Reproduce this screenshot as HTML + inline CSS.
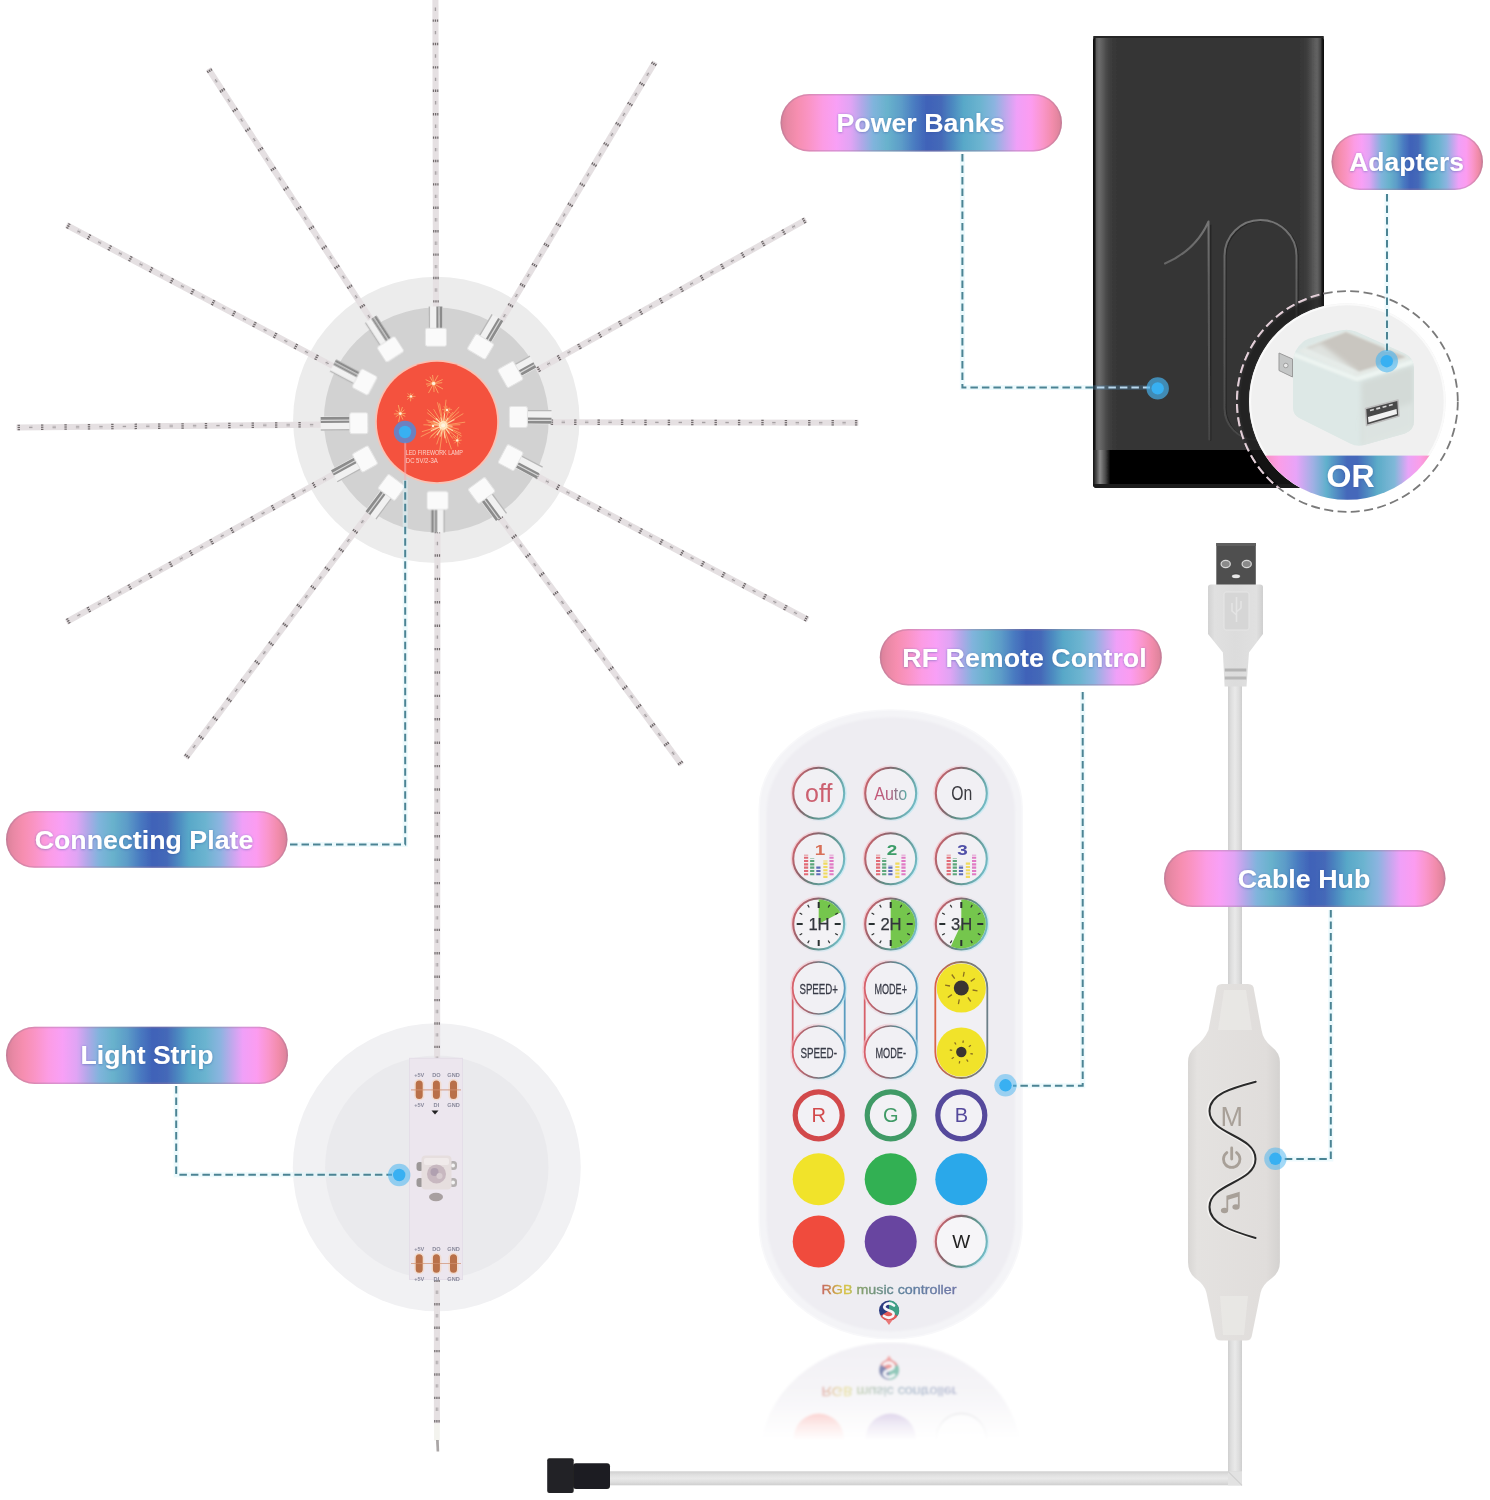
<!DOCTYPE html>
<html><head><meta charset="utf-8"><title>LED Firework Lamp Kit</title>
<style>
html,body{margin:0;padding:0;background:#fff;}
body{width:1490px;height:1500px;overflow:hidden;font-family:"Liberation Sans",sans-serif;}
svg{display:block;}
text{font-family:"Liberation Sans",sans-serif;}
</style></head><body>
<svg width="1490" height="1500" viewBox="0 0 1490 1500">
<rect width="1490" height="1500" fill="#ffffff"/>

<defs>
<linearGradient id="pill" x1="0" y1="0" x2="1" y2="0">
<stop offset="0" stop-color="#d88098"/>
<stop offset="0.025" stop-color="#e888a4"/>
<stop offset="0.06" stop-color="#f68eb0"/>
<stop offset="0.1" stop-color="#fa94c4"/>
<stop offset="0.15" stop-color="#fc9ce4"/>
<stop offset="0.2" stop-color="#f8a0f6"/>
<stop offset="0.25" stop-color="#e0a4f4"/>
<stop offset="0.29" stop-color="#b0a8e8"/>
<stop offset="0.33" stop-color="#80b4dc"/>
<stop offset="0.38" stop-color="#68b2cc"/>
<stop offset="0.43" stop-color="#5c9cc8"/>
<stop offset="0.48" stop-color="#4878c0"/>
<stop offset="0.52" stop-color="#4062b8"/>
<stop offset="0.57" stop-color="#4468b8"/>
<stop offset="0.61" stop-color="#4c88c0"/>
<stop offset="0.65" stop-color="#58a8c8"/>
<stop offset="0.71" stop-color="#6cb4d0"/>
<stop offset="0.76" stop-color="#8cb4e0"/>
<stop offset="0.8" stop-color="#c0a8ec"/>
<stop offset="0.84" stop-color="#f0a0f8"/>
<stop offset="0.89" stop-color="#fc9cf0"/>
<stop offset="0.93" stop-color="#fa96cc"/>
<stop offset="0.965" stop-color="#f28cac"/>
<stop offset="0.985" stop-color="#e486a0"/>
<stop offset="1" stop-color="#d88098"/>
</linearGradient>
<filter id="b1" x="-10%" y="-10%" width="120%" height="120%"><feGaussianBlur stdDeviation="0.6"/></filter>
<filter id="b2" x="-10%" y="-10%" width="120%" height="120%"><feGaussianBlur stdDeviation="1.2"/></filter>
<filter id="b3" x="-20%" y="-20%" width="140%" height="140%"><feGaussianBlur stdDeviation="2.5"/></filter>
<filter id="ts" x="-10%" y="-30%" width="120%" height="160%"><feDropShadow dx="0" dy="0.5" stdDeviation="1.2" flood-color="#3050a0" flood-opacity="0.55"/></filter>
</defs>

<g filter="url(#b1)">
<circle cx="436.8" cy="1167.3" r="144" fill="#f1f1f3"/>
<circle cx="436.8" cy="1167.3" r="111.7" fill="#eaeaed"/>
</g>
<circle cx="436.3" cy="419.9" r="143.2" fill="#ececec"/>
<circle cx="436.3" cy="419.9" r="112.4" fill="#d2d2d2"/>
<g filter="url(#b1)">
<line x1="436.0" y1="308.0" x2="435.4" y2="-5.0" stroke="#e5e0e2" stroke-width="6.1"/><line x1="435.4" y1="-5.0" x2="436.0" y2="308.0" stroke="#6f696b" stroke-width="5.5" stroke-dasharray="2.4 21" stroke-dashoffset="-1"/><line x1="435.4" y1="-5.0" x2="436.0" y2="308.0" stroke="#9a9496" stroke-width="3.0" stroke-dasharray="3.4 20" stroke-dashoffset="-12.5" stroke-opacity="0.85"/><line x1="434.90" y1="308.00" x2="434.30" y2="-5.00" stroke="#e5e0e2" stroke-width="0.9"/><line x1="437.10" y1="308.00" x2="436.50" y2="-5.00" stroke="#e5e0e2" stroke-width="0.9"/>
<g transform="translate(435.9,337.3) rotate(-90.1)"><rect x="8" y="-7" width="22.8" height="14" fill="#f1f1f1"/><rect x="8" y="-7.2" width="22.8" height="1.4" fill="#b8b8b8"/><rect x="8" y="0.5" width="22.8" height="6" fill="#8c8c8c"/><rect x="8" y="2.6" width="22.8" height="1.2" fill="#d8d8d8"/><rect x="-9" y="-10.5" width="18" height="21" rx="2" fill="#fafafa" stroke="#e4e4e4" stroke-width="1"/></g>
<line x1="501.0" y1="321.5" x2="655.0" y2="62.0" stroke="#e5e0e2" stroke-width="6.1"/><line x1="655.0" y1="62.0" x2="501.0" y2="321.5" stroke="#6f696b" stroke-width="5.5" stroke-dasharray="2.4 21" stroke-dashoffset="-1"/><line x1="655.0" y1="62.0" x2="501.0" y2="321.5" stroke="#9a9496" stroke-width="3.0" stroke-dasharray="3.4 20" stroke-dashoffset="-12.5" stroke-opacity="0.85"/><line x1="500.05" y1="320.94" x2="654.05" y2="61.44" stroke="#e5e0e2" stroke-width="0.9"/><line x1="501.95" y1="322.06" x2="655.95" y2="62.56" stroke="#e5e0e2" stroke-width="0.9"/>
<g transform="translate(480.6,346.6) rotate(-59.3)"><rect x="8" y="-7" width="25.5" height="14" fill="#f1f1f1"/><rect x="8" y="-7.2" width="25.5" height="1.4" fill="#b8b8b8"/><rect x="8" y="0.5" width="25.5" height="6" fill="#8c8c8c"/><rect x="8" y="2.6" width="25.5" height="1.2" fill="#d8d8d8"/><rect x="-9" y="-10.5" width="18" height="21" rx="2" fill="#fafafa" stroke="#e4e4e4" stroke-width="1"/></g>
<line x1="536.4" y1="370.5" x2="806.0" y2="219.6" stroke="#e5e0e2" stroke-width="6.1"/><line x1="806.0" y1="219.6" x2="536.4" y2="370.5" stroke="#6f696b" stroke-width="5.5" stroke-dasharray="2.4 21" stroke-dashoffset="-1"/><line x1="806.0" y1="219.6" x2="536.4" y2="370.5" stroke="#9a9496" stroke-width="3.0" stroke-dasharray="3.4 20" stroke-dashoffset="-12.5" stroke-opacity="0.85"/><line x1="535.86" y1="369.54" x2="805.46" y2="218.64" stroke="#e5e0e2" stroke-width="0.9"/><line x1="536.94" y1="371.46" x2="806.54" y2="220.56" stroke="#e5e0e2" stroke-width="0.9"/>
<g transform="translate(510.4,374.5) rotate(-29.2)"><rect x="8" y="-7" width="18.1" height="14" fill="#f1f1f1"/><rect x="8" y="-7.2" width="18.1" height="1.4" fill="#b8b8b8"/><rect x="8" y="0.5" width="18.1" height="6" fill="#8c8c8c"/><rect x="8" y="2.6" width="18.1" height="1.2" fill="#d8d8d8"/><rect x="-9" y="-10.5" width="18" height="21" rx="2" fill="#fafafa" stroke="#e4e4e4" stroke-width="1"/></g>
<line x1="550.0" y1="422.2" x2="858.3" y2="422.8" stroke="#e5e0e2" stroke-width="6.1"/><line x1="858.3" y1="422.8" x2="550.0" y2="422.2" stroke="#6f696b" stroke-width="5.5" stroke-dasharray="2.4 21" stroke-dashoffset="-1"/><line x1="858.3" y1="422.8" x2="550.0" y2="422.2" stroke="#9a9496" stroke-width="3.0" stroke-dasharray="3.4 20" stroke-dashoffset="-12.5" stroke-opacity="0.85"/><line x1="550.00" y1="421.10" x2="858.30" y2="421.70" stroke="#e5e0e2" stroke-width="0.9"/><line x1="550.00" y1="423.30" x2="858.30" y2="423.90" stroke="#e5e0e2" stroke-width="0.9"/>
<g transform="translate(518.4,417.1) rotate(0.1)"><rect x="8" y="-7" width="25.1" height="14" fill="#f1f1f1"/><rect x="8" y="-7.2" width="25.1" height="1.4" fill="#b8b8b8"/><rect x="8" y="0.5" width="25.1" height="6" fill="#8c8c8c"/><rect x="8" y="2.6" width="25.1" height="1.2" fill="#d8d8d8"/><rect x="-9" y="-10.5" width="18" height="21" rx="2" fill="#fafafa" stroke="#e4e4e4" stroke-width="1"/></g>
<line x1="536.4" y1="475.8" x2="808.0" y2="619.6" stroke="#e5e0e2" stroke-width="6.1"/><line x1="808.0" y1="619.6" x2="536.4" y2="475.8" stroke="#6f696b" stroke-width="5.5" stroke-dasharray="2.4 21" stroke-dashoffset="-1"/><line x1="808.0" y1="619.6" x2="536.4" y2="475.8" stroke="#9a9496" stroke-width="3.0" stroke-dasharray="3.4 20" stroke-dashoffset="-12.5" stroke-opacity="0.85"/><line x1="536.91" y1="474.83" x2="808.51" y2="618.63" stroke="#e5e0e2" stroke-width="0.9"/><line x1="535.89" y1="476.77" x2="807.49" y2="620.57" stroke="#e5e0e2" stroke-width="0.9"/>
<g transform="translate(510.7,457.6) rotate(27.9)"><rect x="8" y="-7" width="24.7" height="14" fill="#f1f1f1"/><rect x="8" y="-7.2" width="24.7" height="1.4" fill="#b8b8b8"/><rect x="8" y="0.5" width="24.7" height="6" fill="#8c8c8c"/><rect x="8" y="2.6" width="24.7" height="1.2" fill="#d8d8d8"/><rect x="-9" y="-10.5" width="18" height="21" rx="2" fill="#fafafa" stroke="#e4e4e4" stroke-width="1"/></g>
<line x1="499.4" y1="516.6" x2="681.6" y2="764.8" stroke="#e5e0e2" stroke-width="6.1"/><line x1="681.6" y1="764.8" x2="499.4" y2="516.6" stroke="#6f696b" stroke-width="5.5" stroke-dasharray="2.4 21" stroke-dashoffset="-1"/><line x1="681.6" y1="764.8" x2="499.4" y2="516.6" stroke="#9a9496" stroke-width="3.0" stroke-dasharray="3.4 20" stroke-dashoffset="-12.5" stroke-opacity="0.85"/><line x1="500.29" y1="515.95" x2="682.49" y2="764.15" stroke="#e5e0e2" stroke-width="0.9"/><line x1="498.51" y1="517.25" x2="680.71" y2="765.45" stroke="#e5e0e2" stroke-width="0.9"/>
<g transform="translate(481.6,490.4) rotate(53.7)"><rect x="8" y="-7" width="25.2" height="14" fill="#f1f1f1"/><rect x="8" y="-7.2" width="25.2" height="1.4" fill="#b8b8b8"/><rect x="8" y="0.5" width="25.2" height="6" fill="#8c8c8c"/><rect x="8" y="2.6" width="25.2" height="1.2" fill="#d8d8d8"/><rect x="-9" y="-10.5" width="18" height="21" rx="2" fill="#fafafa" stroke="#e4e4e4" stroke-width="1"/></g>
<line x1="437.4" y1="531.0" x2="436.9" y2="1423.5" stroke="#e5e0e2" stroke-width="6.1"/><line x1="436.9" y1="1423.5" x2="437.4" y2="531.0" stroke="#6f696b" stroke-width="5.5" stroke-dasharray="2.4 21" stroke-dashoffset="-1"/><line x1="436.9" y1="1423.5" x2="437.4" y2="531.0" stroke="#9a9496" stroke-width="3.0" stroke-dasharray="3.4 20" stroke-dashoffset="-12.5" stroke-opacity="0.85"/><line x1="438.50" y1="531.00" x2="438.00" y2="1423.50" stroke="#e5e0e2" stroke-width="0.9"/><line x1="436.30" y1="531.00" x2="435.80" y2="1423.50" stroke="#e5e0e2" stroke-width="0.9"/>
<g transform="translate(437.6,500.5) rotate(90.0)"><rect x="8" y="-7" width="24.0" height="14" fill="#f1f1f1"/><rect x="8" y="-7.2" width="24.0" height="1.4" fill="#b8b8b8"/><rect x="8" y="0.5" width="24.0" height="6" fill="#8c8c8c"/><rect x="8" y="2.6" width="24.0" height="1.2" fill="#d8d8d8"/><rect x="-9" y="-10.5" width="18" height="21" rx="2" fill="#fafafa" stroke="#e4e4e4" stroke-width="1"/></g>
<line x1="369.4" y1="512.3" x2="185.7" y2="757.9" stroke="#e5e0e2" stroke-width="6.1"/><line x1="185.7" y1="757.9" x2="369.4" y2="512.3" stroke="#6f696b" stroke-width="5.5" stroke-dasharray="2.4 21" stroke-dashoffset="-1"/><line x1="185.7" y1="757.9" x2="369.4" y2="512.3" stroke="#9a9496" stroke-width="3.0" stroke-dasharray="3.4 20" stroke-dashoffset="-12.5" stroke-opacity="0.85"/><line x1="370.28" y1="512.96" x2="186.58" y2="758.56" stroke="#e5e0e2" stroke-width="0.9"/><line x1="368.52" y1="511.64" x2="184.82" y2="757.24" stroke="#e5e0e2" stroke-width="0.9"/>
<g transform="translate(391.5,487.4) rotate(126.8)"><rect x="8" y="-7" width="26.7" height="14" fill="#f1f1f1"/><rect x="8" y="-7.2" width="26.7" height="1.4" fill="#b8b8b8"/><rect x="8" y="0.5" width="26.7" height="6" fill="#8c8c8c"/><rect x="8" y="2.6" width="26.7" height="1.2" fill="#d8d8d8"/><rect x="-9" y="-10.5" width="18" height="21" rx="2" fill="#fafafa" stroke="#e4e4e4" stroke-width="1"/></g>
<line x1="334.5" y1="473.7" x2="66.4" y2="622.0" stroke="#e5e0e2" stroke-width="6.1"/><line x1="66.4" y1="622.0" x2="334.5" y2="473.7" stroke="#6f696b" stroke-width="5.5" stroke-dasharray="2.4 21" stroke-dashoffset="-1"/><line x1="66.4" y1="622.0" x2="334.5" y2="473.7" stroke="#9a9496" stroke-width="3.0" stroke-dasharray="3.4 20" stroke-dashoffset="-12.5" stroke-opacity="0.85"/><line x1="335.03" y1="474.66" x2="66.93" y2="622.96" stroke="#e5e0e2" stroke-width="0.9"/><line x1="333.97" y1="472.74" x2="65.87" y2="621.04" stroke="#e5e0e2" stroke-width="0.9"/>
<g transform="translate(365.0,459.0) rotate(151.1)"><rect x="8" y="-7" width="27.3" height="14" fill="#f1f1f1"/><rect x="8" y="-7.2" width="27.3" height="1.4" fill="#b8b8b8"/><rect x="8" y="0.5" width="27.3" height="6" fill="#8c8c8c"/><rect x="8" y="2.6" width="27.3" height="1.2" fill="#d8d8d8"/><rect x="-9" y="-10.5" width="18" height="21" rx="2" fill="#fafafa" stroke="#e4e4e4" stroke-width="1"/></g>
<line x1="322.2" y1="424.6" x2="16.6" y2="427.5" stroke="#e5e0e2" stroke-width="6.1"/><line x1="16.6" y1="427.5" x2="322.2" y2="424.6" stroke="#6f696b" stroke-width="5.5" stroke-dasharray="2.4 21" stroke-dashoffset="-1"/><line x1="16.6" y1="427.5" x2="322.2" y2="424.6" stroke="#9a9496" stroke-width="3.0" stroke-dasharray="3.4 20" stroke-dashoffset="-12.5" stroke-opacity="0.85"/><line x1="322.21" y1="425.70" x2="16.61" y2="428.60" stroke="#e5e0e2" stroke-width="0.9"/><line x1="322.19" y1="423.50" x2="16.59" y2="426.40" stroke="#e5e0e2" stroke-width="0.9"/>
<g transform="translate(358.8,423.2) rotate(179.5)"><rect x="8" y="-7" width="30.1" height="14" fill="#f1f1f1"/><rect x="8" y="-7.2" width="30.1" height="1.4" fill="#b8b8b8"/><rect x="8" y="0.5" width="30.1" height="6" fill="#8c8c8c"/><rect x="8" y="2.6" width="30.1" height="1.2" fill="#d8d8d8"/><rect x="-9" y="-10.5" width="18" height="21" rx="2" fill="#fafafa" stroke="#e4e4e4" stroke-width="1"/></g>
<line x1="334.0" y1="366.6" x2="66.4" y2="225.0" stroke="#e5e0e2" stroke-width="6.1"/><line x1="66.4" y1="225.0" x2="334.0" y2="366.6" stroke="#6f696b" stroke-width="5.5" stroke-dasharray="2.4 21" stroke-dashoffset="-1"/><line x1="66.4" y1="225.0" x2="334.0" y2="366.6" stroke="#9a9496" stroke-width="3.0" stroke-dasharray="3.4 20" stroke-dashoffset="-12.5" stroke-opacity="0.85"/><line x1="333.49" y1="367.57" x2="65.89" y2="225.97" stroke="#e5e0e2" stroke-width="0.9"/><line x1="334.51" y1="365.63" x2="66.91" y2="224.03" stroke="#e5e0e2" stroke-width="0.9"/>
<g transform="translate(364.7,382.0) rotate(-152.1)"><rect x="8" y="-7" width="27.8" height="14" fill="#f1f1f1"/><rect x="8" y="-7.2" width="27.8" height="1.4" fill="#b8b8b8"/><rect x="8" y="0.5" width="27.8" height="6" fill="#8c8c8c"/><rect x="8" y="2.6" width="27.8" height="1.2" fill="#d8d8d8"/><rect x="-9" y="-10.5" width="18" height="21" rx="2" fill="#fafafa" stroke="#e4e4e4" stroke-width="1"/></g>
<line x1="371.6" y1="320.5" x2="208.4" y2="68.9" stroke="#e5e0e2" stroke-width="6.1"/><line x1="208.4" y1="68.9" x2="371.6" y2="320.5" stroke="#6f696b" stroke-width="5.5" stroke-dasharray="2.4 21" stroke-dashoffset="-1"/><line x1="208.4" y1="68.9" x2="371.6" y2="320.5" stroke="#9a9496" stroke-width="3.0" stroke-dasharray="3.4 20" stroke-dashoffset="-12.5" stroke-opacity="0.85"/><line x1="370.68" y1="321.10" x2="207.48" y2="69.50" stroke="#e5e0e2" stroke-width="0.9"/><line x1="372.52" y1="319.90" x2="209.32" y2="68.30" stroke="#e5e0e2" stroke-width="0.9"/>
<g transform="translate(390.5,349.3) rotate(-123.0)"><rect x="8" y="-7" width="27.9" height="14" fill="#f1f1f1"/><rect x="8" y="-7.2" width="27.9" height="1.4" fill="#b8b8b8"/><rect x="8" y="0.5" width="27.9" height="6" fill="#8c8c8c"/><rect x="8" y="2.6" width="27.9" height="1.2" fill="#d8d8d8"/><rect x="-9" y="-10.5" width="18" height="21" rx="2" fill="#fafafa" stroke="#e4e4e4" stroke-width="1"/></g>
<rect x="434" y="1423.5" width="5.8" height="17" fill="#f3f3ee"/><path d="M436 1440 L438.8 1440 L439.2 1451.5 L436.6 1451.5 Z" fill="#aaa6a6"/>
</g>
<circle cx="437" cy="422" r="62" fill="#f9c2b4"/>
<circle cx="437" cy="422" r="60.2" fill="#f4523e"/>
<g filter="url(#b1)"><g stroke="#fba765" stroke-width="0.9" stroke-opacity="0.9" stroke-linecap="round"><line x1="446.4" y1="425.3" x2="459.9" y2="424.7"/><line x1="446.3" y1="426.2" x2="458.5" y2="429.2"/><line x1="446.1" y1="426.7" x2="460.8" y2="433.4"/><line x1="446.0" y1="427.0" x2="461.4" y2="435.9"/><line x1="445.6" y1="427.6" x2="458.2" y2="438.8"/><line x1="445.1" y1="428.0" x2="452.6" y2="438.3"/><line x1="444.3" y1="428.5" x2="451.3" y2="448.9"/><line x1="443.8" y1="428.6" x2="446.6" y2="442.6"/><line x1="442.8" y1="428.6" x2="439.6" y2="451.5"/><line x1="442.1" y1="428.5" x2="436.8" y2="444.0"/><line x1="441.3" y1="428.0" x2="434.0" y2="437.8"/><line x1="440.8" y1="427.6" x2="429.8" y2="437.9"/><line x1="440.8" y1="427.5" x2="430.9" y2="436.1"/><line x1="440.3" y1="426.9" x2="421.1" y2="436.5"/><line x1="440.1" y1="426.3" x2="422.2" y2="431.6"/><line x1="440.0" y1="425.3" x2="423.8" y2="424.8"/><line x1="440.0" y1="424.7" x2="428.0" y2="422.0"/><line x1="440.1" y1="424.4" x2="426.7" y2="420.1"/><line x1="440.7" y1="423.4" x2="427.5" y2="412.9"/><line x1="440.9" y1="423.1" x2="427.8" y2="409.7"/><line x1="441.5" y1="422.6" x2="433.8" y2="409.5"/><line x1="442.4" y1="422.3" x2="437.6" y2="402.7"/><line x1="442.7" y1="422.2" x2="439.6" y2="403.9"/><line x1="443.6" y1="422.2" x2="446.0" y2="400.1"/><line x1="444.4" y1="422.4" x2="449.8" y2="408.3"/><line x1="445.1" y1="422.8" x2="452.9" y2="412.3"/><line x1="445.3" y1="423.0" x2="458.9" y2="407.2"/><line x1="445.7" y1="423.3" x2="458.9" y2="411.8"/><line x1="446.0" y1="423.8" x2="463.0" y2="413.8"/><line x1="446.4" y1="424.9" x2="464.8" y2="422.2"/></g><circle cx="443.2" cy="425.4" r="4.3" fill="#fff4e0" fill-opacity="0.95"/><g stroke="#ffe0b0" stroke-width="1.1" stroke-opacity="0.9" stroke-linecap="round"><line x1="444.8" y1="425.5" x2="452.1" y2="426.2"/><line x1="444.6" y1="426.1" x2="452.5" y2="430.5"/><line x1="444.1" y1="426.6" x2="449.2" y2="433.2"/><line x1="443.4" y1="426.9" x2="445.0" y2="437.9"/><line x1="442.9" y1="426.9" x2="440.8" y2="436.2"/><line x1="442.4" y1="426.7" x2="437.1" y2="434.9"/><line x1="441.8" y1="426.0" x2="431.3" y2="430.6"/><line x1="441.6" y1="425.3" x2="434.4" y2="424.7"/><line x1="441.8" y1="424.8" x2="433.1" y2="420.9"/><line x1="442.1" y1="424.3" x2="436.2" y2="418.5"/><line x1="442.7" y1="423.9" x2="440.9" y2="417.9"/><line x1="443.4" y1="423.9" x2="444.6" y2="413.8"/><line x1="444.1" y1="424.1" x2="447.9" y2="418.2"/><line x1="444.6" y1="424.7" x2="454.1" y2="419.8"/></g><circle cx="443.2" cy="425.4" r="2.1" fill="#fff4e0" fill-opacity="0.95"/><g stroke="#fba765" stroke-width="1.0" stroke-opacity="0.9" stroke-linecap="round"><line x1="434.9" y1="383.4" x2="441.8" y2="382.7"/><line x1="434.7" y1="384.2" x2="442.6" y2="388.8"/><line x1="434.2" y1="384.7" x2="438.1" y2="392.8"/><line x1="433.7" y1="384.8" x2="434.0" y2="391.6"/><line x1="433.0" y1="384.7" x2="428.7" y2="392.7"/><line x1="432.4" y1="384.0" x2="427.4" y2="386.2"/><line x1="432.3" y1="383.6" x2="426.4" y2="384.1"/><line x1="432.4" y1="382.9" x2="426.0" y2="379.8"/><line x1="433.0" y1="382.3" x2="430.1" y2="377.1"/><line x1="433.4" y1="382.2" x2="432.6" y2="375.4"/><line x1="434.2" y1="382.3" x2="437.8" y2="375.7"/><line x1="434.8" y1="383.0" x2="442.3" y2="379.7"/></g><circle cx="433.6" cy="383.5" r="1.8" fill="#fff4e0" fill-opacity="0.95"/><g stroke="#fba765" stroke-width="0.9" stroke-opacity="0.9" stroke-linecap="round"><line x1="411.6" y1="396.4" x2="415.1" y2="396.4"/><line x1="411.4" y1="396.8" x2="412.9" y2="398.5"/><line x1="410.9" y1="397.0" x2="410.6" y2="400.9"/><line x1="410.5" y1="396.8" x2="407.5" y2="399.3"/><line x1="410.4" y1="396.4" x2="407.4" y2="396.5"/><line x1="410.5" y1="396.0" x2="407.8" y2="393.7"/><line x1="410.9" y1="395.8" x2="410.7" y2="393.5"/><line x1="411.4" y1="395.9" x2="413.0" y2="394.0"/></g><circle cx="411" cy="396.4" r="1.2" fill="#fff4e0" fill-opacity="0.95"/><g stroke="#fba765" stroke-width="1.0" stroke-opacity="0.9" stroke-linecap="round"><line x1="401.3" y1="413.6" x2="405.2" y2="413.4"/><line x1="401.2" y1="414.1" x2="404.9" y2="416.2"/><line x1="400.7" y1="414.5" x2="402.7" y2="419.2"/><line x1="400.1" y1="414.6" x2="398.7" y2="421.5"/><line x1="399.5" y1="414.2" x2="396.0" y2="416.6"/><line x1="399.3" y1="413.7" x2="394.3" y2="414.0"/><line x1="399.5" y1="413.0" x2="396.0" y2="410.7"/><line x1="400.1" y1="412.6" x2="398.4" y2="405.4"/><line x1="400.6" y1="412.6" x2="402.3" y2="407.4"/><line x1="401.1" y1="412.9" x2="404.1" y2="410.2"/></g><circle cx="400.3" cy="413.6" r="1.4" fill="#fff4e0" fill-opacity="0.95"/><g stroke="#fba765" stroke-width="0.9" stroke-opacity="0.9" stroke-linecap="round"><line x1="457.9" y1="440.4" x2="461.2" y2="440.2"/><line x1="457.7" y1="440.9" x2="459.6" y2="443.2"/><line x1="457.3" y1="441.1" x2="457.9" y2="446.2"/><line x1="456.7" y1="440.9" x2="454.6" y2="443.0"/><line x1="456.5" y1="440.4" x2="453.8" y2="440.4"/><line x1="456.7" y1="439.9" x2="453.0" y2="436.2"/><line x1="457.3" y1="439.7" x2="457.7" y2="435.2"/><line x1="457.7" y1="439.9" x2="460.1" y2="437.2"/></g><circle cx="457.2" cy="440.4" r="1.2" fill="#fff4e0" fill-opacity="0.95"/><g stroke="#fba765" stroke-width="0.8" stroke-opacity="0.9" stroke-linecap="round"><line x1="447.6" y1="410.0" x2="451.5" y2="409.6"/><line x1="447.4" y1="410.4" x2="450.2" y2="413.2"/><line x1="447.0" y1="410.6" x2="447.1" y2="413.2"/><line x1="446.5" y1="410.4" x2="443.2" y2="413.2"/><line x1="446.4" y1="409.9" x2="442.5" y2="409.6"/><line x1="446.6" y1="409.5" x2="444.1" y2="406.6"/><line x1="447.0" y1="409.4" x2="446.7" y2="406.1"/><line x1="447.4" y1="409.6" x2="448.9" y2="407.9"/></g><circle cx="447" cy="410" r="1.2" fill="#fff4e0" fill-opacity="0.95"/><g stroke="#fba765" stroke-width="0.8" stroke-opacity="0.9" stroke-linecap="round"><line x1="433.5" y1="425.9" x2="435.7" y2="425.7"/><line x1="433.3" y1="426.4" x2="434.9" y2="428.9"/><line x1="432.7" y1="426.4" x2="431.2" y2="428.4"/><line x1="432.5" y1="425.9" x2="429.0" y2="425.6"/><line x1="432.8" y1="425.6" x2="431.8" y2="423.4"/><line x1="433.2" y1="425.6" x2="434.1" y2="423.7"/></g><circle cx="433" cy="426" r="1.2" fill="#fff4e0" fill-opacity="0.95"/></g>
<g filter="url(#b1)"><text x="405.8" y="455.3" font-size="6.3" fill="#fbd0c6" textLength="57" lengthAdjust="spacingAndGlyphs">LED FIREWORK LAMP</text><text x="405.8" y="462.8" font-size="6.3" fill="#fbd0c6" textLength="32" lengthAdjust="spacingAndGlyphs">DC 5V/2-3A</text></g>
<g filter="url(#b1)">
<rect x="409.5" y="1058.3" width="53" height="221.2" fill="#ece6ee"/>
<rect x="409.5" y="1058.3" width="53" height="221.2" fill="none" stroke="#e4dee8" stroke-width="1"/>
<rect x="414.9" y="1079.8" width="8.6" height="20" rx="4.3" fill="#b97048" stroke="#f2dcd0" stroke-width="1.6"/>
<rect x="432.09999999999997" y="1079.8" width="8.6" height="20" rx="4.3" fill="#b97048" stroke="#f2dcd0" stroke-width="1.6"/>
<rect x="449.2" y="1079.8" width="8.6" height="20" rx="4.3" fill="#b97048" stroke="#f2dcd0" stroke-width="1.6"/>
<line x1="411" y1="1089.8" x2="461" y2="1089.8" stroke="#d09070" stroke-width="1.2" stroke-opacity="0.7"/>
<text x="419.2" y="1076.8" font-size="5.6" font-weight="bold" text-anchor="middle" fill="#8a8a9c">+5V</text>
<text x="419.2" y="1107.3" font-size="5.6" font-weight="bold" text-anchor="middle" fill="#8a8a9c">+5V</text>
<text x="436.4" y="1076.8" font-size="5.6" font-weight="bold" text-anchor="middle" fill="#8a8a9c">DO</text>
<text x="436.4" y="1107.3" font-size="5.6" font-weight="bold" text-anchor="middle" fill="#8a8a9c">DI</text>
<text x="453.5" y="1076.8" font-size="5.6" font-weight="bold" text-anchor="middle" fill="#8a8a9c">GND</text>
<text x="453.5" y="1107.3" font-size="5.6" font-weight="bold" text-anchor="middle" fill="#8a8a9c">GND</text>
<rect x="414.9" y="1253.5" width="8.6" height="20" rx="4.3" fill="#b97048" stroke="#f2dcd0" stroke-width="1.6"/>
<rect x="432.09999999999997" y="1253.5" width="8.6" height="20" rx="4.3" fill="#b97048" stroke="#f2dcd0" stroke-width="1.6"/>
<rect x="449.2" y="1253.5" width="8.6" height="20" rx="4.3" fill="#b97048" stroke="#f2dcd0" stroke-width="1.6"/>
<line x1="411" y1="1263.5" x2="461" y2="1263.5" stroke="#d09070" stroke-width="1.2" stroke-opacity="0.7"/>
<text x="419.2" y="1250.5" font-size="5.6" font-weight="bold" text-anchor="middle" fill="#8a8a9c">+5V</text>
<text x="419.2" y="1281.0" font-size="5.6" font-weight="bold" text-anchor="middle" fill="#8a8a9c">+5V</text>
<text x="436.4" y="1250.5" font-size="5.6" font-weight="bold" text-anchor="middle" fill="#8a8a9c">DO</text>
<text x="436.4" y="1281.0" font-size="5.6" font-weight="bold" text-anchor="middle" fill="#8a8a9c">DI</text>
<text x="453.5" y="1250.5" font-size="5.6" font-weight="bold" text-anchor="middle" fill="#8a8a9c">GND</text>
<text x="453.5" y="1281.0" font-size="5.6" font-weight="bold" text-anchor="middle" fill="#8a8a9c">GND</text>
<path d="M431.5 1110.5 L438.5 1110.5 L435 1114.5 Z" fill="#222"/>
<rect x="416.5" y="1162" width="7" height="9" rx="3" fill="#9c9898"/><rect x="416.5" y="1178" width="7" height="9" rx="3" fill="#9c9898"/>
<rect x="449" y="1161" width="8" height="9" rx="3.5" fill="#b4b0b0"/><rect x="449" y="1178" width="8" height="9" rx="3.5" fill="#b4b0b0"/>
<circle cx="453" cy="1165.5" r="2" fill="#f4f4f4"/><circle cx="453" cy="1182.5" r="2" fill="#f4f4f4"/>
<rect x="421.5" y="1155.5" width="30" height="34" rx="4" fill="#e6dede"/>
<rect x="424" y="1158" width="25" height="7" rx="2" fill="#f0eaea"/>
<circle cx="436.5" cy="1174" r="9.5" fill="#c8b8c0"/>
<circle cx="434.5" cy="1172" r="4" fill="#b0a0b0"/><circle cx="439.5" cy="1176" r="3" fill="#d8ccd0"/>
<ellipse cx="436" cy="1197" rx="7" ry="4.2" fill="#a8a0a0"/>
</g>
<defs>
<linearGradient id="pbL" x1="0" x2="1" y1="0" y2="0">
<stop offset="0" stop-color="#0c0c0c"/><stop offset="0.008" stop-color="#141414"/><stop offset="0.014" stop-color="#5a5a5a"/><stop offset="0.026" stop-color="#6c6c6c"/><stop offset="0.04" stop-color="#5e5e5e"/><stop offset="0.06" stop-color="#474747"/><stop offset="0.085" stop-color="#393939"/><stop offset="0.11" stop-color="#353535"/>
<stop offset="0.89" stop-color="#353535"/><stop offset="0.925" stop-color="#3c3c3c"/><stop offset="0.95" stop-color="#545454"/><stop offset="0.97" stop-color="#636363"/><stop offset="0.984" stop-color="#4a4a4a"/><stop offset="0.992" stop-color="#181818"/><stop offset="1" stop-color="#0c0c0c"/>
</linearGradient>
<linearGradient id="pbB" x1="0" x2="1" y1="0" y2="0">
<stop offset="0" stop-color="#111"/><stop offset="0.03" stop-color="#8a8a8a"/><stop offset="0.05" stop-color="#555"/><stop offset="0.075" stop-color="#050505"/><stop offset="1" stop-color="#000"/>
</linearGradient>
<clipPath id="pbclip"><rect x="1093" y="36" width="231" height="452" rx="4"/></clipPath>
<clipPath id="cubeclip"><path d="M1293 362 Q1293 350 1304 341 Q1310 337 1340 330.5 Q1348 328.5 1356 331.5 L1405 353.5 Q1414 358 1414 368 L1414 421 Q1414 430 1405 433.5 L1364 445 Q1357 447 1350 443.5 L1299 418 Q1293 414.5 1293 408 Z"/></clipPath><clipPath id="adclip"><circle cx="1347.4" cy="401.5" r="98.3"/></clipPath>
<linearGradient id="adTop" x1="0" x2="1" y1="0.6" y2="0.2"><stop offset="0" stop-color="#e6e8e4"/><stop offset="0.35" stop-color="#d8d5cf"/><stop offset="0.7" stop-color="#cfcbc4"/><stop offset="1" stop-color="#d8d4ce"/></linearGradient>
<linearGradient id="adL" x1="0" x2="1" y1="0" y2="0"><stop offset="0" stop-color="#dfe6e6"/><stop offset="1" stop-color="#d8e6e6"/></linearGradient>
<linearGradient id="adR" x1="0" x2="0" y1="0" y2="1"><stop offset="0" stop-color="#dde2de"/><stop offset="1" stop-color="#e6eae8"/></linearGradient>
</defs>
<g filter="url(#b1)">
<rect x="1093" y="36" width="231" height="452" rx="4" fill="url(#pbL)"/>
<rect x="1093" y="36" width="231" height="2" rx="1" fill="#262626"/>
<g clip-path="url(#pbclip)"><rect x="1093" y="450" width="231" height="40" fill="url(#pbB)"/><rect x="1093" y="484" width="231" height="5" fill="#1a1a1a"/></g>
<defs><linearGradient id="g10" gradientUnits="userSpaceOnUse" x1="0" x2="0" y1="218" y2="442"><stop offset="0" stop-color="#767676"/><stop offset="0.3" stop-color="#5e5e5e"/><stop offset="1" stop-color="#464646"/></linearGradient></defs>
<g fill="none" stroke="#262626" stroke-width="1.6" stroke-linecap="round" stroke-linejoin="round" transform="translate(1.4,0.6)"><path d="M1209.3 225 L1209.3 439.5"/><path d="M1224.5 408 L1224.5 256 A36 36 0 0 1 1296.5 256 L1296.5 408 A32 32 0 0 1 1264.5 440 L1256.5 440 A32 32 0 0 1 1224.5 408 Z"/></g>
<g fill="none" stroke="url(#g10)" stroke-width="2" stroke-linecap="round" stroke-linejoin="round">
<path d="M1165 263.5 Q1196 250 1208.5 221.5 L1209.3 439.5"/>
<path d="M1224.5 408 L1224.5 256 A36 36 0 0 1 1296.5 256 L1296.5 408 A32 32 0 0 1 1264.5 440 L1256.5 440 A32 32 0 0 1 1224.5 408 Z"/>
</g>
</g>
<circle cx="1347.4" cy="401.5" r="104" fill="#ffffff" fill-opacity="0.0"/>
<g filter="url(#b1)">
<circle cx="1347.4" cy="401.5" r="110.4" fill="none" stroke="#7a7a7a" stroke-width="1.8" stroke-dasharray="9 4.4"/>
<g clip-path="url(#pbclip)"><circle cx="1347.4" cy="401.5" r="110.4" fill="none" stroke="#f2dce6" stroke-width="2.1" stroke-dasharray="9 4.4"/></g>
<g clip-path="url(#pbclip)"><circle cx="1347.4" cy="401.5" r="103.5" fill="none" stroke="#1c1c20" stroke-width="11" stroke-opacity="0.7" filter="url(#b2)"/></g>
<circle cx="1347.4" cy="401.5" r="98.3" fill="#f0f0f0"/>
<circle cx="1347.4" cy="401.5" r="97.3" fill="none" stroke="#fafafa" stroke-width="2"/>
<g clip-path="url(#adclip)">
<rect x="1240" y="455.6" width="215" height="50" fill="url(#pill2)"/>
</g>
</g>
<defs><linearGradient id="pill2" gradientUnits="userSpaceOnUse" x1="1262" x2="1432" y1="0" y2="0"><stop offset="0" stop-color="#f890b8"/><stop offset="0.10" stop-color="#fb9ee8"/><stop offset="0.2" stop-color="#e8a4f8"/><stop offset="0.3" stop-color="#a0b0e4"/><stop offset="0.38" stop-color="#60b0cc"/><stop offset="0.5" stop-color="#4468ba"/><stop offset="0.56" stop-color="#4468ba"/><stop offset="0.68" stop-color="#5cacc8"/><stop offset="0.78" stop-color="#80b8d8"/><stop offset="0.86" stop-color="#e8a4f8"/><stop offset="0.93" stop-color="#fb9ee8"/><stop offset="1" stop-color="#f890b8"/></linearGradient></defs>
<text x="1350.5" y="487" font-size="32" font-weight="bold" fill="#ffffff" text-anchor="middle" filter="url(#ts)">OR</text>
<g filter="url(#b1)" stroke-linejoin="round">
<path d="M1279 353 L1292.5 359 L1292.5 377 L1279 370.5 Z" fill="#c4c6c6" stroke="#9a9a9a" stroke-width="1"/>
<circle cx="1285.8" cy="365.5" r="2.3" fill="#e8e8e8" stroke="#909090" stroke-width="0.8"/>
<path d="M1293 362 Q1293 350 1304 341 Q1310 337 1340 330.5 Q1348 328.5 1356 331.5 L1405 353.5 Q1414 358 1414 368 L1414 421 Q1414 430 1405 433.5 L1364 445 Q1357 447 1350 443.5 L1299 418 Q1293 414.5 1293 408 Z" fill="#dde8e6"/>
<g clip-path="url(#cubeclip)">
<path d="M1298 351 L1346 331 L1412 359 L1357 377 Z" fill="#e4e9e5" filter="url(#b2)"/>
<path d="M1306 348 L1346 332 L1406 357 L1359 371.5 Z" fill="#c9c6c0" filter="url(#b2)"/><path d="M1298 352 L1320 343 L1358 372 L1352 376 Z" fill="#e6ece9" fill-opacity="0.75" filter="url(#b3)"/>
<path d="M1361 382 L1414 365 L1414 428 L1362 445 Z" fill="#d3dad7" filter="url(#b3)"/>
<path d="M1362 420 L1414 402 L1414 436 L1362 448 Z" fill="#dfe6e3" filter="url(#b3)" fill-opacity="0.8"/>
<path d="M1295 355 L1356.5 379 L1412 362" fill="none" stroke="#edf4f1" stroke-width="4.5" stroke-linecap="round" stroke-linejoin="round" filter="url(#b2)"/>
<path d="M1356.5 381 L1356.5 444" fill="none" stroke="#e9f0ee" stroke-width="5" stroke-linecap="round" filter="url(#b2)"/>
</g>
<path d="M1365.5 408.5 L1398 400 L1399 416 L1366.5 425.5 Z" fill="#4a4a4a" stroke="#bdbdbd" stroke-width="1.5"/>
<path d="M1368 417 L1396.5 409 L1397 414 L1368.5 422.5 Z" fill="#f2f2f2"/>
<path d="M1370 410.5 L1395 404" fill="none" stroke="#d8d8d8" stroke-width="1.6" stroke-dasharray="4 2.5"/>
</g>
<defs>
<linearGradient id="rmBody" x1="0" x2="1" y1="0" y2="0"><stop offset="0" stop-color="#f6f5f8"/><stop offset="0.06" stop-color="#eeedf1"/><stop offset="0.5" stop-color="#f0eff3"/><stop offset="0.94" stop-color="#eeedf1"/><stop offset="1" stop-color="#f8f7fa"/></linearGradient>
<linearGradient id="ring" x1="0" x2="1" y1="0.3" y2="0.7"><stop offset="0" stop-color="#c8656e"/><stop offset="0.3" stop-color="#8a646c"/><stop offset="0.55" stop-color="#5e8c84"/><stop offset="1" stop-color="#74bcc6"/></linearGradient><linearGradient id="ringGlow" x1="0" x2="1" y1="0.3" y2="0.7"><stop offset="0" stop-color="#f8b8c0"/><stop offset="0.5" stop-color="#e8e0e8"/><stop offset="1" stop-color="#b0e8f4"/></linearGradient>
<linearGradient id="ringC" x1="0" x2="1" y1="0" y2="0"><stop offset="0" stop-color="#d8606a"/><stop offset="0.4" stop-color="#8c6c74"/><stop offset="0.6" stop-color="#5e8890"/><stop offset="1" stop-color="#5a9cc0"/></linearGradient>
<linearGradient id="ringY" x1="0" x2="1" y1="0" y2="0"><stop offset="0" stop-color="#dc6448"/><stop offset="0.5" stop-color="#8a7868"/><stop offset="1" stop-color="#6c8088"/></linearGradient>
<linearGradient id="autoT" x1="0" x2="1" y1="0" y2="0"><stop offset="0" stop-color="#c85878"/><stop offset="0.5" stop-color="#b06080"/><stop offset="1" stop-color="#58b0a8"/></linearGradient>
<linearGradient id="rgbT" gradientUnits="userSpaceOnUse" x1="821" x2="957" y1="0" y2="0"><stop offset="0" stop-color="#c86a6a"/><stop offset="0.07" stop-color="#c8844c"/><stop offset="0.12" stop-color="#cdb04a"/><stop offset="0.2" stop-color="#d8c848"/><stop offset="0.26" stop-color="#8ca468"/><stop offset="0.45" stop-color="#6c9088"/><stop offset="0.62" stop-color="#6080a0"/><stop offset="1" stop-color="#7078a8"/></linearGradient>
<linearGradient id="fadeR" x1="0" x2="0" y1="0" y2="1"><stop offset="0" stop-color="#fff" stop-opacity="0.3"/><stop offset="0.42" stop-color="#fff" stop-opacity="0.5"/><stop offset="0.6" stop-color="#fff" stop-opacity="0.7"/><stop offset="0.74" stop-color="#fff" stop-opacity="0.88"/><stop offset="0.87" stop-color="#fff" stop-opacity="1"/><stop offset="1" stop-color="#fff" stop-opacity="1"/></linearGradient>
<clipPath id="reflClip"><rect x="740" y="1342" width="310" height="113"/></clipPath>
</defs>
<g clip-path="url(#reflClip)" filter="url(#b2)">
<g transform="translate(0,2680.5) scale(1,-1)">
<path d="M760 1100 L760 1223 A130.75 115 0 0 0 890.75 1338 A130.75 115 0 0 0 1021.5 1223 L1021.5 1100 Z" fill="#eceaf0"/>
<text x="889" y="1294" font-size="12.5" text-anchor="middle" fill="url(#rgbT)" stroke="url(#rgbT)" stroke-width="0.35" textLength="135" lengthAdjust="spacingAndGlyphs">RGB music controller</text>
<g><circle cx="889" cy="1310.5" r="10" fill="#2c3c80"/><path d="M889 1300.5 A10 10 0 0 1 897.5 1316 L889 1310.5 Z" fill="#3fa086"/><path d="M897.5 1316 A10 10 0 0 1 880.5 1316 L889 1310.5 Z" fill="#e25a58"/><path d="M885.5 1320 L889 1325 L892.5 1320 Z" fill="#e87878"/><path d="M894 1305.5 Q889 1301.5 885 1305 Q882.5 1308.5 889 1310.5 Q895.5 1312.5 893 1316 Q889 1319.5 884 1316" fill="none" stroke="#f6f6fa" stroke-width="2.7" stroke-linecap="round"/></g>
<circle cx="818.7" cy="1242" r="25" fill="#f0605a"/><circle cx="890.7" cy="1242" r="25" fill="#8a68b8"/><circle cx="961.3" cy="1242" r="25" fill="#f6f5f8" stroke="#b0b0b8" stroke-width="1.5"/>
</g>
<rect x="720" y="1342" width="350" height="113" fill="url(#fadeR)"/><rect x="720" y="1440" width="350" height="40" fill="#fff"/>
</g>
<g filter="url(#b1)">
<path d="M758.5 808.1 A132.25 98.9 0 0 1 890.75 709.2 A132.25 98.9 0 0 1 1023.0 808.1 L1023.0 1223.6 A132.25 115.9 0 0 1 890.75 1339.5 A132.25 115.9 0 0 1 758.5 1223.6 Z" fill="#f8f8fa" />
<path d="M760 808.7 A130.75 98.0 0 0 1 890.75 710.7 A130.75 98.0 0 0 1 1021.5 808.7 L1021.5 1223.0 A130.75 115.0 0 0 1 890.75 1338 A130.75 115.0 0 0 1 760 1223.0 Z" fill="#f4f4f7" />
<path d="M766.5 811.3000000000001 A124.25 94.1 0 0 1 890.75 717.2 A124.25 94.1 0 0 1 1015.0 811.3000000000001 L1015.0 1220.4 A124.25 111.1 0 0 1 890.75 1331.5 A124.25 111.1 0 0 1 766.5 1220.4 Z" fill="#eeedf2" filter="url(#b2)"/>
<circle cx="818.7" cy="793.3" r="26.7" fill="none" stroke="url(#ringGlow)" stroke-width="2.6" stroke-opacity="0.6"/><circle cx="818.7" cy="793.3" r="25.5" fill="#f1f0f4" stroke="url(#ring)" stroke-width="2.1"/>
<circle cx="890.7" cy="793.3" r="26.7" fill="none" stroke="url(#ringGlow)" stroke-width="2.6" stroke-opacity="0.6"/><circle cx="890.7" cy="793.3" r="25.5" fill="#f1f0f4" stroke="url(#ring)" stroke-width="2.1"/>
<circle cx="961.3" cy="793.3" r="26.7" fill="none" stroke="url(#ringGlow)" stroke-width="2.6" stroke-opacity="0.6"/><circle cx="961.3" cy="793.3" r="25.5" fill="#f1f0f4" stroke="url(#ring)" stroke-width="2.1"/>
<text x="818.7" y="802.0999999999999" font-size="25" text-anchor="middle" fill="#cc6070">off</text>
<text x="890.7" y="799.8" font-size="18.5" text-anchor="middle" fill="url(#autoT)" textLength="33" lengthAdjust="spacingAndGlyphs">Auto</text>
<text x="961.8" y="800.3" font-size="19.5" text-anchor="middle" fill="#3a3a40" textLength="21" lengthAdjust="spacingAndGlyphs">On</text>
<circle cx="818.7" cy="858.7" r="26.7" fill="none" stroke="url(#ringGlow)" stroke-width="2.6" stroke-opacity="0.6"/><circle cx="818.7" cy="858.7" r="25.5" fill="#f1f0f4" stroke="url(#ring)" stroke-width="2.1"/>
<line x1="806.1" y1="875.3000000000001" x2="806.1" y2="854.8000000000001" stroke="#e0606a" stroke-width="4.2" stroke-dasharray="2.1 1.2" stroke-opacity="0.92"/>
<line x1="812.2" y1="875.3000000000001" x2="812.2" y2="858.3000000000001" stroke="#4fa070" stroke-width="4.2" stroke-dasharray="2.1 1.2" stroke-opacity="0.92"/>
<line x1="818.4" y1="875.3000000000001" x2="818.4" y2="865.8000000000001" stroke="#5060b0" stroke-width="4.2" stroke-dasharray="2.1 1.2" stroke-opacity="0.92"/>
<line x1="825.4" y1="877.9000000000001" x2="825.4" y2="860.4000000000001" stroke="#f0d850" stroke-width="4.2" stroke-dasharray="2.1 1.2" stroke-opacity="0.92"/>
<line x1="831.5" y1="875.3000000000001" x2="831.5" y2="854.8000000000001" stroke="#e070c0" stroke-width="4.2" stroke-dasharray="2.1 1.2" stroke-opacity="0.92"/>
<text x="819.9000000000001" y="854.5" font-size="15.5" font-weight="bold" text-anchor="middle" fill="#d87058" stroke="#f1f0f4" stroke-width="2" paint-order="stroke" textLength="10.5" lengthAdjust="spacingAndGlyphs">1</text>
<circle cx="890.7" cy="858.7" r="26.7" fill="none" stroke="url(#ringGlow)" stroke-width="2.6" stroke-opacity="0.6"/><circle cx="890.7" cy="858.7" r="25.5" fill="#f1f0f4" stroke="url(#ring)" stroke-width="2.1"/>
<line x1="878.1" y1="875.3000000000001" x2="878.1" y2="854.8000000000001" stroke="#e0606a" stroke-width="4.2" stroke-dasharray="2.1 1.2" stroke-opacity="0.92"/>
<line x1="884.2" y1="875.3000000000001" x2="884.2" y2="858.3000000000001" stroke="#4fa070" stroke-width="4.2" stroke-dasharray="2.1 1.2" stroke-opacity="0.92"/>
<line x1="890.4" y1="875.3000000000001" x2="890.4" y2="865.3000000000001" stroke="#5060b0" stroke-width="4.2" stroke-dasharray="2.1 1.2" stroke-opacity="0.92"/>
<line x1="897.4" y1="877.9000000000001" x2="897.4" y2="861.9000000000001" stroke="#f0d850" stroke-width="4.2" stroke-dasharray="2.1 1.2" stroke-opacity="0.92"/>
<line x1="903.5" y1="875.3000000000001" x2="903.5" y2="854.8000000000001" stroke="#e070c0" stroke-width="4.2" stroke-dasharray="2.1 1.2" stroke-opacity="0.92"/>
<text x="891.9000000000001" y="854.5" font-size="15.5" font-weight="bold" text-anchor="middle" fill="#3c9c68" stroke="#f1f0f4" stroke-width="2" paint-order="stroke" textLength="10.5" lengthAdjust="spacingAndGlyphs">2</text>
<circle cx="961.3" cy="858.7" r="26.7" fill="none" stroke="url(#ringGlow)" stroke-width="2.6" stroke-opacity="0.6"/><circle cx="961.3" cy="858.7" r="25.5" fill="#f1f0f4" stroke="url(#ring)" stroke-width="2.1"/>
<line x1="948.7" y1="875.3000000000001" x2="948.7" y2="854.8000000000001" stroke="#e0606a" stroke-width="4.2" stroke-dasharray="2.1 1.2" stroke-opacity="0.92"/>
<line x1="954.8" y1="875.3000000000001" x2="954.8" y2="858.3000000000001" stroke="#4fa070" stroke-width="4.2" stroke-dasharray="2.1 1.2" stroke-opacity="0.92"/>
<line x1="961.0" y1="875.3000000000001" x2="961.0" y2="865.3000000000001" stroke="#5060b0" stroke-width="4.2" stroke-dasharray="2.1 1.2" stroke-opacity="0.92"/>
<line x1="967.9" y1="877.9000000000001" x2="967.9" y2="861.9000000000001" stroke="#f0d850" stroke-width="4.2" stroke-dasharray="2.1 1.2" stroke-opacity="0.92"/>
<line x1="974.1" y1="875.3000000000001" x2="974.1" y2="854.8000000000001" stroke="#e070c0" stroke-width="4.2" stroke-dasharray="2.1 1.2" stroke-opacity="0.92"/>
<text x="962.5" y="854.5" font-size="15.5" font-weight="bold" text-anchor="middle" fill="#5050a8" stroke="#f1f0f4" stroke-width="2" paint-order="stroke" textLength="10.5" lengthAdjust="spacingAndGlyphs">3</text>
<circle cx="818.7" cy="924" r="26.7" fill="none" stroke="url(#ringGlow)" stroke-width="2.6" stroke-opacity="0.6"/><circle cx="818.7" cy="924" r="25.5" fill="#f3f2f5" stroke="url(#ring)" stroke-width="2.1"/>
<path d="M818.7 924 L818.7 899.5 A24.5 24.5 0 0 1 840.3 912.5 Z" fill="#74c64e"/>
<line x1="818.7" y1="902.0" x2="818.7" y2="908.0" stroke="#2c3030" stroke-width="2.0"/>
<line x1="829.7" y1="904.9" x2="828.2" y2="907.5" stroke="#2c3030" stroke-width="1.2"/>
<line x1="837.8" y1="913.0" x2="835.2" y2="914.5" stroke="#2c3030" stroke-width="1.2"/>
<line x1="840.7" y1="924.0" x2="834.7" y2="924.0" stroke="#2c3030" stroke-width="2.0"/>
<line x1="837.8" y1="935.0" x2="835.2" y2="933.5" stroke="#2c3030" stroke-width="1.2"/>
<line x1="829.7" y1="943.1" x2="828.2" y2="940.5" stroke="#2c3030" stroke-width="1.2"/>
<line x1="818.7" y1="946.0" x2="818.7" y2="940.0" stroke="#2c3030" stroke-width="2.0"/>
<line x1="807.7" y1="943.1" x2="809.2" y2="940.5" stroke="#2c3030" stroke-width="1.2"/>
<line x1="799.6" y1="935.0" x2="802.2" y2="933.5" stroke="#2c3030" stroke-width="1.2"/>
<line x1="796.7" y1="924.0" x2="802.7" y2="924.0" stroke="#2c3030" stroke-width="2.0"/>
<line x1="799.6" y1="913.0" x2="802.2" y2="914.5" stroke="#2c3030" stroke-width="1.2"/>
<line x1="807.7" y1="904.9" x2="809.2" y2="907.5" stroke="#2c3030" stroke-width="1.2"/>
<text x="819.0" y="930" font-size="16.6" text-anchor="middle" fill="#33363c" stroke="#33363c" stroke-width="0.25">1H</text>
<circle cx="890.7" cy="924" r="26.7" fill="none" stroke="url(#ringGlow)" stroke-width="2.6" stroke-opacity="0.6"/><circle cx="890.7" cy="924" r="25.5" fill="#f3f2f5" stroke="url(#ring)" stroke-width="2.1"/>
<path d="M890.7 924 L890.7 899.5 A24.5 24.5 0 0 1 890.7 948.5 Z" fill="#74c64e"/>
<line x1="890.7" y1="902.0" x2="890.7" y2="908.0" stroke="#2c3030" stroke-width="2.0"/>
<line x1="901.7" y1="904.9" x2="900.2" y2="907.5" stroke="#2c3030" stroke-width="1.2"/>
<line x1="909.8" y1="913.0" x2="907.2" y2="914.5" stroke="#2c3030" stroke-width="1.2"/>
<line x1="912.7" y1="924.0" x2="906.7" y2="924.0" stroke="#2c3030" stroke-width="2.0"/>
<line x1="909.8" y1="935.0" x2="907.2" y2="933.5" stroke="#2c3030" stroke-width="1.2"/>
<line x1="901.7" y1="943.1" x2="900.2" y2="940.5" stroke="#2c3030" stroke-width="1.2"/>
<line x1="890.7" y1="946.0" x2="890.7" y2="940.0" stroke="#2c3030" stroke-width="2.0"/>
<line x1="879.7" y1="943.1" x2="881.2" y2="940.5" stroke="#2c3030" stroke-width="1.2"/>
<line x1="871.6" y1="935.0" x2="874.2" y2="933.5" stroke="#2c3030" stroke-width="1.2"/>
<line x1="868.7" y1="924.0" x2="874.7" y2="924.0" stroke="#2c3030" stroke-width="2.0"/>
<line x1="871.6" y1="913.0" x2="874.2" y2="914.5" stroke="#2c3030" stroke-width="1.2"/>
<line x1="879.7" y1="904.9" x2="881.2" y2="907.5" stroke="#2c3030" stroke-width="1.2"/>
<text x="891.0" y="930" font-size="16.6" text-anchor="middle" fill="#33363c" stroke="#33363c" stroke-width="0.25">2H</text>
<circle cx="961.3" cy="924" r="26.7" fill="none" stroke="url(#ringGlow)" stroke-width="2.6" stroke-opacity="0.6"/><circle cx="961.3" cy="924" r="25.5" fill="#f3f2f5" stroke="url(#ring)" stroke-width="2.1"/>
<path d="M961.3 924 L961.3 899.5 A24.5 24.5 0 1 1 950.9 946.2 Z" fill="#74c64e"/>
<line x1="961.3" y1="902.0" x2="961.3" y2="908.0" stroke="#2c3030" stroke-width="2.0"/>
<line x1="972.3" y1="904.9" x2="970.8" y2="907.5" stroke="#2c3030" stroke-width="1.2"/>
<line x1="980.4" y1="913.0" x2="977.8" y2="914.5" stroke="#2c3030" stroke-width="1.2"/>
<line x1="983.3" y1="924.0" x2="977.3" y2="924.0" stroke="#2c3030" stroke-width="2.0"/>
<line x1="980.4" y1="935.0" x2="977.8" y2="933.5" stroke="#2c3030" stroke-width="1.2"/>
<line x1="972.3" y1="943.1" x2="970.8" y2="940.5" stroke="#2c3030" stroke-width="1.2"/>
<line x1="961.3" y1="946.0" x2="961.3" y2="940.0" stroke="#2c3030" stroke-width="2.0"/>
<line x1="950.3" y1="943.1" x2="951.8" y2="940.5" stroke="#2c3030" stroke-width="1.2"/>
<line x1="942.2" y1="935.0" x2="944.8" y2="933.5" stroke="#2c3030" stroke-width="1.2"/>
<line x1="939.3" y1="924.0" x2="945.3" y2="924.0" stroke="#2c3030" stroke-width="2.0"/>
<line x1="942.2" y1="913.0" x2="944.8" y2="914.5" stroke="#2c3030" stroke-width="1.2"/>
<line x1="950.3" y1="904.9" x2="951.8" y2="907.5" stroke="#2c3030" stroke-width="1.2"/>
<text x="961.5999999999999" y="930" font-size="16.6" text-anchor="middle" fill="#33363c" stroke="#33363c" stroke-width="0.25">3H</text>
<rect x="792.7" y="962.0" width="52.0" height="116.0" rx="26.0" fill="#f1f0f4" stroke="url(#ringC)" stroke-width="1.8"/>
<circle cx="818.7" cy="988" r="27.2" fill="none" stroke="url(#ringGlow)" stroke-width="2.6" stroke-opacity="0.6"/><circle cx="818.7" cy="988" r="26.0" fill="#f1f0f4" stroke="url(#ringC)" stroke-width="1.7"/>
<circle cx="818.7" cy="1052" r="27.2" fill="none" stroke="url(#ringGlow)" stroke-width="2.6" stroke-opacity="0.6"/><circle cx="818.7" cy="1052" r="26.0" fill="#f1f0f4" stroke="url(#ringC)" stroke-width="1.7"/>
<rect x="864.7" y="962.0" width="52.0" height="116.0" rx="26.0" fill="#f1f0f4" stroke="url(#ringC)" stroke-width="1.8"/>
<circle cx="890.7" cy="988" r="27.2" fill="none" stroke="url(#ringGlow)" stroke-width="2.6" stroke-opacity="0.6"/><circle cx="890.7" cy="988" r="26.0" fill="#f1f0f4" stroke="url(#ringC)" stroke-width="1.7"/>
<circle cx="890.7" cy="1052" r="27.2" fill="none" stroke="url(#ringGlow)" stroke-width="2.6" stroke-opacity="0.6"/><circle cx="890.7" cy="1052" r="26.0" fill="#f1f0f4" stroke="url(#ringC)" stroke-width="1.7"/>
<text x="818.7" y="993.6" font-size="15" text-anchor="middle" fill="#3a3c48" stroke="#3a3c48" stroke-width="0.3" textLength="38.5" lengthAdjust="spacingAndGlyphs">SPEED+</text>
<text x="818.7" y="1057.6" font-size="15" text-anchor="middle" fill="#3a3c48" stroke="#3a3c48" stroke-width="0.3" textLength="36.5" lengthAdjust="spacingAndGlyphs">SPEED-</text>
<text x="890.7" y="993.6" font-size="15" text-anchor="middle" fill="#3a3c48" stroke="#3a3c48" stroke-width="0.3" textLength="32.5" lengthAdjust="spacingAndGlyphs">MODE+</text>
<text x="890.7" y="1057.6" font-size="15" text-anchor="middle" fill="#3a3c48" stroke="#3a3c48" stroke-width="0.3" textLength="30.5" lengthAdjust="spacingAndGlyphs">MODE-</text>
<rect x="935.3" y="962.0" width="52.0" height="116.0" rx="26.0" fill="#f1f0f4" stroke="url(#ringY)" stroke-width="1.8"/>
<circle cx="961.3" cy="988" r="24.6" fill="#f1e32c"/>
<circle cx="961.3" cy="988" r="7.5" fill="#3a3430"/>
<line x1="972.6" y1="990.0" x2="977.5" y2="990.9" stroke="#8a7020" stroke-width="1.3"/>
<line x1="967.9" y1="997.4" x2="970.8" y2="1001.5" stroke="#8a7020" stroke-width="1.3"/>
<line x1="959.3" y1="999.3" x2="958.4" y2="1004.2" stroke="#8a7020" stroke-width="1.3"/>
<line x1="951.9" y1="994.6" x2="947.8" y2="997.5" stroke="#8a7020" stroke-width="1.3"/>
<line x1="950.0" y1="986.0" x2="945.1" y2="985.1" stroke="#8a7020" stroke-width="1.3"/>
<line x1="954.7" y1="978.6" x2="951.8" y2="974.5" stroke="#8a7020" stroke-width="1.3"/>
<line x1="963.3" y1="976.7" x2="964.2" y2="971.8" stroke="#8a7020" stroke-width="1.3"/>
<line x1="970.7" y1="981.4" x2="974.8" y2="978.5" stroke="#8a7020" stroke-width="1.3"/>
<circle cx="961.3" cy="1052" r="24.6" fill="#f1e32c"/>
<circle cx="961.3" cy="1052" r="5.2" fill="#3a3430"/>
<line x1="970.4" y1="1053.6" x2="972.8" y2="1054.0" stroke="#8a7020" stroke-width="1.3"/>
<line x1="966.6" y1="1059.5" x2="968.0" y2="1061.6" stroke="#8a7020" stroke-width="1.3"/>
<line x1="959.7" y1="1061.1" x2="959.3" y2="1063.5" stroke="#8a7020" stroke-width="1.3"/>
<line x1="953.8" y1="1057.3" x2="951.7" y2="1058.7" stroke="#8a7020" stroke-width="1.3"/>
<line x1="952.2" y1="1050.4" x2="949.8" y2="1050.0" stroke="#8a7020" stroke-width="1.3"/>
<line x1="956.0" y1="1044.5" x2="954.6" y2="1042.4" stroke="#8a7020" stroke-width="1.3"/>
<line x1="962.9" y1="1042.9" x2="963.3" y2="1040.5" stroke="#8a7020" stroke-width="1.3"/>
<line x1="968.8" y1="1046.7" x2="970.9" y2="1045.3" stroke="#8a7020" stroke-width="1.3"/>
<circle cx="818.7" cy="1115.3" r="23.5" fill="#f2f1f5" stroke="#d24a4c" stroke-width="5.2"/>
<text x="818.7" y="1122.3" font-size="20" text-anchor="middle" fill="#d24a4c">R</text>
<circle cx="890.7" cy="1115.3" r="23.5" fill="#f2f1f5" stroke="#3f9a66" stroke-width="5.2"/>
<text x="890.7" y="1122.3" font-size="20" text-anchor="middle" fill="#3f9a66">G</text>
<circle cx="961.3" cy="1115.3" r="23.5" fill="#f2f1f5" stroke="#54489c" stroke-width="5.2"/>
<text x="961.3" y="1122.3" font-size="20" text-anchor="middle" fill="#54489c">B</text>
<circle cx="818.7" cy="1179.3" r="26" fill="#f1e32a"/>
<circle cx="890.7" cy="1179.3" r="26" fill="#33b052"/>
<circle cx="961.3" cy="1179.3" r="26" fill="#2aa8ea"/>
<circle cx="818.7" cy="1241.4" r="26" fill="#f04c3c"/>
<circle cx="890.7" cy="1241.4" r="26" fill="#6844a0"/>
<circle cx="961.3" cy="1241.4" r="26.7" fill="none" stroke="url(#ringGlow)" stroke-width="2.6" stroke-opacity="0.6"/><circle cx="961.3" cy="1241.4" r="25.5" fill="#f6f5f8" stroke="url(#ring)" stroke-width="2.1"/>
<text x="961.3" y="1247.6000000000001" font-size="19" text-anchor="middle" fill="#222">W</text>
<text x="889" y="1294" font-size="12.5" text-anchor="middle" fill="url(#rgbT)" stroke="url(#rgbT)" stroke-width="0.35" textLength="135" lengthAdjust="spacingAndGlyphs">RGB music controller</text>
<g><circle cx="889" cy="1310.5" r="10" fill="#2c3c80"/><path d="M889 1300.5 A10 10 0 0 1 897.5 1316 L889 1310.5 Z" fill="#3fa086"/><path d="M897.5 1316 A10 10 0 0 1 880.5 1316 L889 1310.5 Z" fill="#e25a58"/><path d="M885.5 1320 L889 1325 L892.5 1320 Z" fill="#e87878"/><path d="M894 1305.5 Q889 1301.5 885 1305 Q882.5 1308.5 889 1310.5 Q895.5 1312.5 893 1316 Q889 1319.5 884 1316" fill="none" stroke="#f6f6fa" stroke-width="2.7" stroke-linecap="round"/></g>
</g>
<defs>
<linearGradient id="cabV" x1="0" x2="1" y1="0" y2="0"><stop offset="0" stop-color="#cfcfcf"/><stop offset="0.22" stop-color="#dedede"/><stop offset="0.5" stop-color="#e9e9e9"/><stop offset="0.78" stop-color="#dddddd"/><stop offset="1" stop-color="#cecece"/></linearGradient>
<linearGradient id="cabH" x1="0" x2="0" y1="0" y2="1"><stop offset="0" stop-color="#cfcfcf"/><stop offset="0.22" stop-color="#dedede"/><stop offset="0.5" stop-color="#e9e9e9"/><stop offset="0.78" stop-color="#dddddd"/><stop offset="1" stop-color="#cecece"/></linearGradient>
<linearGradient id="usbH" x1="0" x2="1" y1="0" y2="0"><stop offset="0" stop-color="#d2d2d2"/><stop offset="0.12" stop-color="#e0e0e0"/><stop offset="0.5" stop-color="#dcdcdc"/><stop offset="0.88" stop-color="#e0e0e0"/><stop offset="1" stop-color="#cfcfcf"/></linearGradient>
<linearGradient id="ctl" x1="0" x2="1" y1="0" y2="0"><stop offset="0" stop-color="#d8d6d4"/><stop offset="0.1" stop-color="#e4e2e0"/><stop offset="0.85" stop-color="#e0dddb"/><stop offset="1" stop-color="#d4d2d0"/></linearGradient>
</defs>
<g filter="url(#b1)">
<rect x="1228" y="680" width="14" height="310" fill="url(#cabV)"/>
<rect x="1228" y="1335" width="14" height="150" fill="url(#cabV)"/>
<rect x="605" y="1471.3" width="637" height="14" fill="url(#cabH)"/>
<path d="M1228 1471.3 L1242 1471.3 L1242 1485.3 L1228 1485.3 Z" fill="#e2e2e2"/>
<path d="M1228 1471.3 L1242 1485.3" stroke="#cfcfcf" stroke-width="1.2"/>
<rect x="573" y="1463.3" width="37" height="25.6" rx="3" fill="#1e1e20"/>
<rect x="547.2" y="1458.3" width="26.5" height="34.6" rx="2" fill="#232325"/>
<rect x="1216.3" y="543" width="39.5" height="43" fill="#505050"/>
<rect x="1216.3" y="543" width="39.5" height="3" fill="#5e5e5e"/>
<ellipse cx="1225.7" cy="564" rx="4.6" ry="3.6" fill="#8a8a8a" stroke="#d8d8d8" stroke-width="1.2"/>
<ellipse cx="1246.7" cy="564" rx="4.6" ry="3.6" fill="#8a8a8a" stroke="#d8d8d8" stroke-width="1.2"/>
<ellipse cx="1236" cy="576.3" rx="4.4" ry="2.4" fill="#e8e8e8" stroke="#3a3a3a" stroke-width="0.8"/>
<path d="M1208 587 Q1208 584.4 1211 584.4 L1260 584.4 Q1263 584.4 1263 587 L1263 634 L1249 652.5 L1246.5 686.5 L1224.6 686.5 L1222.9 652.5 L1208 634 Z" fill="url(#usbH)"/>
<rect x="1224" y="592" width="25" height="38" rx="2" fill="#d6d6d6" stroke="#e6e6e6" stroke-width="1"/>
<path d="M1236.5 597 L1236.5 622 M1232 603 L1232 611 L1236.5 615 M1241 601 L1241 608 L1236.5 612" fill="none" stroke="#e4e4e4" stroke-width="1.6"/>
<rect x="1224.8" y="668.5" width="21.5" height="3" fill="#b4b4b4"/>
<rect x="1224.8" y="676.5" width="21.5" height="3" fill="#b8b8b8"/>
<path d="M1216.2 990 Q1216.2 984 1222 984 L1248 984 Q1254 984 1254 990 L1261.5 1030 Q1263 1040 1272 1047 Q1279.9 1053 1279.9 1062 L1279.9 1262 Q1279.9 1272 1272 1278 Q1262 1285 1260.5 1293 L1252 1335 Q1251.5 1340.5 1246 1340.5 L1221 1340.5 Q1215.5 1340.5 1215 1335 L1206.5 1293 Q1205 1285 1195 1278 Q1188 1272 1188 1262 L1188 1062 Q1188 1053 1195 1047 Q1204 1040 1208.5 1030 Z" fill="url(#ctl)"/>
<path d="M1224 990 L1246 990 L1252 1030 L1218 1030 Z" fill="#ebe9e7" fill-opacity="0.7"/>
<path d="M1220 1296 L1248 1296 L1244 1335 L1223 1335 Z" fill="#ebe9e7" fill-opacity="0.7"/>
<path d="M1255.7 1081.7 C1232 1088 1209.5 1094 1209.5 1111 C1209.5 1135 1255.5 1135 1255.5 1159 C1255.5 1183 1209.5 1183 1209.5 1207 C1209.5 1224 1232 1231 1255.5 1238" fill="none" stroke="#f4f2f0" stroke-width="3.2" stroke-linecap="round" transform="translate(-1.2,0)"/>
<path d="M1255.7 1081.7 C1232 1088 1209.5 1094 1209.5 1111 C1209.5 1135 1255.5 1135 1255.5 1159 C1255.5 1183 1209.5 1183 1209.5 1207 C1209.5 1224 1232 1231 1255.5 1238" fill="none" stroke="#2a2a2a" stroke-width="2" stroke-linecap="round"/>
<text x="1231.8" y="1125.5" font-size="27" text-anchor="middle" fill="#a8a098">M</text>
<path d="M1226.8 1152.6 A8.2 8.2 0 1 0 1236.6 1152.6" fill="none" stroke="#a8a098" stroke-width="2.8" stroke-linecap="round"/>
<line x1="1231.7" y1="1148" x2="1231.7" y2="1159" stroke="#a8a098" stroke-width="2.8" stroke-linecap="round"/>
<g fill="#a8a098" stroke="#a8a098"><ellipse cx="1224.5" cy="1210.5" rx="3.6" ry="2.8" stroke="none"/><ellipse cx="1236" cy="1207" rx="3.6" ry="2.8" stroke="none"/><path d="M1227.3 1210 L1227.3 1196.5 L1238.8 1193 L1238.8 1206.5" fill="none" stroke-width="1.8"/><path d="M1227.3 1196.5 L1238.8 1193 L1238.8 1196.5 L1227.3 1200 Z" stroke="none"/></g>
</g>
<g filter="url(#b1)">
<path d="M962.4 154 L962.4 387.5 L1093 387.5" fill="none" stroke="#dcf6fc" stroke-width="5" stroke-opacity="0.5"/>
<path d="M962.4 154 L962.4 387.5 L1093 387.5" fill="none" stroke="#4c8494" stroke-width="2" stroke-dasharray="7.5 4"/>
<path d="M1387 194 L1387 352" fill="none" stroke="#dcf6fc" stroke-width="5" stroke-opacity="0.5"/>
<path d="M1387 194 L1387 352" fill="none" stroke="#4c8494" stroke-width="2" stroke-dasharray="7.5 4"/>
<path d="M1082.7 692 L1082.7 1085.7 L1013 1085.7" fill="none" stroke="#dcf6fc" stroke-width="5" stroke-opacity="0.5"/>
<path d="M1082.7 692 L1082.7 1085.7 L1013 1085.7" fill="none" stroke="#4c8494" stroke-width="2" stroke-dasharray="7.5 4"/>
<path d="M1330.8 910 L1330.8 1159 L1284 1159" fill="none" stroke="#dcf6fc" stroke-width="5" stroke-opacity="0.5"/>
<path d="M1330.8 910 L1330.8 1159 L1284 1159" fill="none" stroke="#4c8494" stroke-width="2" stroke-dasharray="7.5 4"/>
<path d="M290 844.6 L405.2 844.6 L405.2 480" fill="none" stroke="#dcf6fc" stroke-width="5" stroke-opacity="0.5"/>
<path d="M290 844.6 L405.2 844.6 L405.2 480" fill="none" stroke="#4c8494" stroke-width="2" stroke-dasharray="7.5 4"/>
<path d="M176.2 1086 L176.2 1174.8 L392 1174.8" fill="none" stroke="#dcf6fc" stroke-width="5" stroke-opacity="0.5"/>
<path d="M176.2 1086 L176.2 1174.8 L392 1174.8" fill="none" stroke="#4c8494" stroke-width="2" stroke-dasharray="7.5 4"/>
<path d="M405.2 480 L405.2 442" fill="none" stroke="#f4b0b4" stroke-width="2" stroke-opacity="0.55"/>
<path d="M1093 387.5 L1150 387.5" fill="none" stroke="#4a80a8" stroke-width="4.5" stroke-opacity="0.35"/><path d="M1093 387.5 L1150 387.5" fill="none" stroke="#b8d8ee" stroke-width="2" stroke-dasharray="7.5 4" stroke-dashoffset="7.6"/>
<circle cx="1157.7" cy="388.4" r="11.2" fill="#48b4f0" fill-opacity="0.68"/>
<circle cx="1157.7" cy="388.4" r="6.2" fill="#38b0f2"/>
<circle cx="1386.8" cy="361.2" r="11.2" fill="#48b4f0" fill-opacity="0.6"/>
<circle cx="1386.8" cy="361.2" r="6.2" fill="#38b0f2"/>
<circle cx="1005.5" cy="1085.3" r="11.2" fill="#48b4f0" fill-opacity="0.5"/>
<circle cx="1005.5" cy="1085.3" r="6.2" fill="#38b0f2"/>
<circle cx="1275.4" cy="1158.8" r="11.2" fill="#48b4f0" fill-opacity="0.5"/>
<circle cx="1275.4" cy="1158.8" r="6.2" fill="#38b0f2"/>
<circle cx="405" cy="432" r="11.2" fill="#4c8ce0" fill-opacity="0.8"/>
<circle cx="405" cy="432" r="6.2" fill="#38b0f2"/>
<circle cx="399.2" cy="1175" r="11.2" fill="#48b4f0" fill-opacity="0.55"/>
<circle cx="399.2" cy="1175" r="6.2" fill="#38b0f2"/>
</g>
<g filter="url(#b1)"><rect x="780.5" y="94" width="281.5" height="57.5" rx="28.75" fill="url(#pill)"/><rect x="781.25" y="94.75" width="280.0" height="56.0" rx="28.0" fill="none" stroke="#a07898" stroke-opacity="0.35" stroke-width="1.5"/></g>
<text x="920.5" y="132" font-size="26.7" font-weight="bold" fill="#ffffff" text-anchor="middle" textLength="168.1" lengthAdjust="spacingAndGlyphs" filter="url(#ts)">Power Banks</text>
<g filter="url(#b1)"><rect x="1331.5" y="133.5" width="151.5" height="56.5" rx="28.25" fill="url(#pill)"/><rect x="1332.25" y="134.25" width="150.0" height="55.0" rx="27.5" fill="none" stroke="#a07898" stroke-opacity="0.35" stroke-width="1.5"/></g>
<text x="1406.6" y="171.3" font-size="26.7" font-weight="bold" fill="#ffffff" text-anchor="middle" textLength="114.8" lengthAdjust="spacingAndGlyphs" filter="url(#ts)">Adapters</text>
<g filter="url(#b1)"><rect x="879.8" y="628.9" width="282" height="56.7" rx="28.35" fill="url(#pill)"/><rect x="880.55" y="629.65" width="280.5" height="55.2" rx="27.6" fill="none" stroke="#a07898" stroke-opacity="0.35" stroke-width="1.5"/></g>
<text x="1024.5" y="666.9" font-size="26.7" font-weight="bold" fill="#ffffff" text-anchor="middle" textLength="244.4" lengthAdjust="spacingAndGlyphs" filter="url(#ts)">RF Remote Control</text>
<g filter="url(#b1)"><rect x="1164" y="850" width="281.5" height="57" rx="28.5" fill="url(#pill)"/><rect x="1164.75" y="850.75" width="280.0" height="55.5" rx="27.75" fill="none" stroke="#a07898" stroke-opacity="0.35" stroke-width="1.5"/></g>
<text x="1304" y="887.9" font-size="26.7" font-weight="bold" fill="#ffffff" text-anchor="middle" textLength="132.7" lengthAdjust="spacingAndGlyphs" filter="url(#ts)">Cable Hub</text>
<g filter="url(#b1)"><rect x="6" y="811" width="281.5" height="56.8" rx="28.4" fill="url(#pill)"/><rect x="6.75" y="811.75" width="280.0" height="55.3" rx="27.65" fill="none" stroke="#a07898" stroke-opacity="0.35" stroke-width="1.5"/></g>
<text x="144" y="849.1" font-size="26.7" font-weight="bold" fill="#ffffff" text-anchor="middle" textLength="218.7" lengthAdjust="spacingAndGlyphs" filter="url(#ts)">Connecting Plate</text>
<g filter="url(#b1)"><rect x="6" y="1026.7" width="282" height="57.2" rx="28.6" fill="url(#pill)"/><rect x="6.75" y="1027.45" width="280.5" height="55.7" rx="27.85" fill="none" stroke="#a07898" stroke-opacity="0.35" stroke-width="1.5"/></g>
<text x="147" y="1064.3" font-size="26.7" font-weight="bold" fill="#ffffff" text-anchor="middle" textLength="132.9" lengthAdjust="spacingAndGlyphs" filter="url(#ts)">Light Strip</text>
</svg>
</body></html>
